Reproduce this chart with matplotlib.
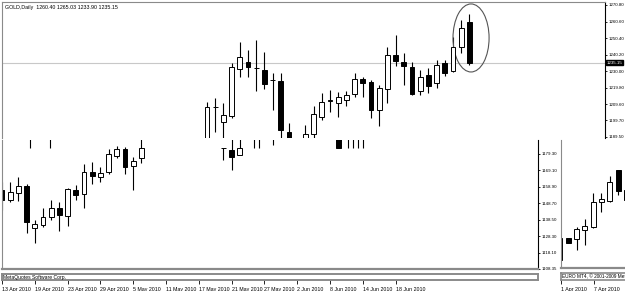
import numpy as np
import matplotlib
matplotlib.use("Agg")
import matplotlib.pyplot as plt
from matplotlib.patches import Ellipse
from matplotlib.transforms import blended_transform_factory

plt.rcParams['font.family'] = ['Liberation Sans', 'DejaVu Sans']

# ---- upper window (GOLD,Daily) ----
up_pos = [25, 26, 27, 28, 29, 30, 31, 32, 33, 34, 35, 37, 38, 39, 40, 41, 42,
          43, 44, 45, 46, 47, 48, 49, 50, 51, 52, 53, 54, 55, 56, 57]
up_open = [1182.0, 1208.0, 1198.74, 1202.44, 1231.38, 1235.69, 1232.0, 1230.77,
           1224.61, 1224.0, 1192.58, 1186.0, 1191.35, 1201.82, 1211.67, 1210.44,
           1212.29, 1216.0, 1225.22, 1223.38, 1206.13, 1219.06, 1240.0, 1235.69,
           1232.61, 1217.83, 1227.69, 1222.76, 1235.08, 1230.15, 1244.93, 1260.40]
up_high = [1211.06, 1213.52, 1210.44, 1235.08, 1248.01, 1243.08, 1249.24, 1241.85,
           1228.92, 1228.92, 1198.12, 1196.9, 1208.59, 1216.6, 1218.45, 1217.22,
           1217.83, 1228.92, 1226.46, 1224.61, 1221.53, 1244.93, 1252.32, 1241.24,
           1235.69, 1230.77, 1232.0, 1236.93, 1236.93, 1251.09, 1261.56, 1265.03]
up_low = [1178.0, 1192.58, 1185.0, 1201.2, 1226.46, 1226.46, 1217.83, 1219.06,
          1206.13, 1187.0, 1185.0, 1182.0, 1187.0, 1199.97, 1205.0, 1201.82,
          1208.59, 1214.14, 1214.14, 1201.2, 1196.28, 1210.44, 1233.23, 1221.53,
          1215.37, 1215.37, 1216.6, 1219.68, 1227.07, 1229.53, 1241.24, 1233.90]
up_close = [1207.98, 1207.9, 1203.05, 1232.61, 1238.77, 1232.61, 1231.9, 1222.14,
            1224.5, 1193.81, 1188.0, 1191.35, 1203.67, 1211.06, 1212.0, 1214.14,
            1215.37, 1225.22, 1222.76, 1206.13, 1219.68, 1240.0, 1236.31, 1233.23,
            1215.98, 1226.46, 1220.91, 1233.85, 1228.92, 1244.93, 1256.63, 1235.15]
up_ticks = [1270.80, 1260.60, 1250.40, 1240.20, 1230.00, 1219.80, 1209.60, 1199.70, 1189.50]
last_price = 1235.15
header = "GOLD,Daily  1260.40 1265.03 1233.90 1235.15"

# ---- lower window (same symbol, older bars + fragments) ----
lo_pos = [0, 1, 2, 3, 4, 5, 6, 7, 8, 9, 10, 11, 12, 13, 14, 15, 16, 17,
          3.41, 5.85, 27, 28, 29, 30.73, 31.34, 33.05, 41, 42.2, 42.8, 43.4, 44.0]
lo_open = [1156.86, 1150.70, 1155.01, 1159.32, 1133.45, 1135.30, 1140.23, 1145.77,
           1140.85, 1156.86, 1154.39, 1167.95, 1164.87, 1167.95, 1177.80, 1182.11,
           1171.64, 1176.57,
           1195, 1195, 1182.73, 1181.49, 1178.41, 1195, 1195, 1195, 1195, 1195, 1195, 1195, 1195]
lo_high = [1161.79, 1161.79, 1164.87, 1160.55, 1138.38, 1145.77, 1150.70, 1149.47,
           1158.09, 1159.94, 1172.87, 1174.10, 1171.03, 1182.11, 1183.96, 1183.34,
           1177.18, 1192.0,
           1196, 1196, 1182.73, 1192.0, 1192.0, 1196, 1196, 1196, 1196, 1196, 1196, 1196, 1196]
lo_low = [1144.54, 1149.47, 1150.08, 1130.38, 1124.22, 1134.07, 1138.38, 1131.61,
          1134.69, 1150.70, 1145.77, 1160.55, 1161.79, 1166.71, 1176.57, 1166.71,
          1156.86, 1173.49,
          1182.73, 1182.73, 1175.34, 1169.18, 1178.41, 1182.73, 1182.73, 1184.57,
          1182.73, 1182.73, 1182.73, 1182.73, 1182.73]
lo_close = [1150.70, 1155.63, 1159.32, 1137.15, 1135.92, 1140.23, 1145.77, 1141.46,
            1157.47, 1153.78, 1167.95, 1165.48, 1167.33, 1179.03, 1182.11, 1171.03,
            1174.72, 1182.73,
            1195, 1195, 1182.6, 1177.18, 1182.73, 1195, 1195, 1195, 1182.73, 1195, 1195, 1195, 1195]
lo_ticks = [1179.30, 1169.10, 1158.90, 1148.70, 1138.50, 1128.30, 1118.10, 1108.35]
lo_date_pos = [0, 4, 8, 12, 16, 20, 24, 28, 32, 36, 40, 44, 48]
lo_dates = ['13 Apr 2010', '19 Apr 2010', '23 Apr 2010', '29 Apr 2010', '5 May 2010',
            '11 May 2010', '17 May 2010', '21 May 2010', '27 May 2010', '2 Jun 2010',
            '8 Jun 2010', '14 Jun 2010', '18 Jun 2010']

# ---- right window (EURO MT4) ----
eu_pos = [0, 1, 2, 3, 4, 5, 6, 7, 8]
eu_open = [1113.75, 1127.29, 1126.68, 1132.22, 1134.07, 1149.47, 1150.08, 1169.18, 1156.86]
eu_high = [1128.52, 1127.29, 1134.07, 1139.00, 1155.01, 1155.01, 1165.48, 1169.18, 1158.09]
eu_low = [1113.13, 1124.22, 1119.91, 1122.98, 1133.45, 1143.31, 1149.47, 1153.78, 1149.47]
eu_close = [1127.29, 1124.22, 1132.84, 1134.69, 1149.47, 1151.31, 1161.79, 1156.24, 1150.70]
eu_date_pos = [0, 4]
eu_dates = ['1 Apr 2010', '7 Apr 2010']

W, H = 625, 291
fig = plt.figure(figsize=(W / 100, H / 100), dpi=100)
GRAY = '#8a8a8a'
FS = 3.2


def px_axes(x0, y0, x1, y1):
    return fig.add_axes([x0 / W, 1 - y1 / H, (x1 - x0) / W, (y1 - y0) / H])


def price_at(y):
    # screen row -> price, shared by all three windows
    return 1270.8 - (y - 5) / 1.6236


def candles(ax, pos, o, h, l, c, width=0.6):
    pos, o, h, l, c = map(np.asarray, (pos, o, h, l, c))
    ax.vlines(pos, l, h, color='black', lw=0.8, zorder=1)
    up = c >= o
    ax.bar(pos, np.maximum(np.abs(c - o), 0.05), bottom=np.minimum(o, c), width=width,
           color=np.where(up, 'white', 'black'), edgecolor='black', lw=0.7, zorder=2)


def style(ax, ticks):
    ax.set_facecolor('white')
    ax.yaxis.tick_right()
    ax.set_yticks(ticks)
    ax.set_yticklabels([f'{t:.2f}' for t in ticks])
    ax.tick_params(axis='y', length=1.5, width=0.6, pad=0.8, labelsize=FS)
    ax.set_xticks([])
    for s in ax.spines.values():
        s.set_color(GRAY)
        s.set_linewidth(0.8)
    ax.spines['right'].set_color('black')


# upper window
ax_up = px_axes(2, 2, 605, 138)
candles(ax_up, up_pos, up_open, up_high, up_low, up_close)
ax_up.set_xlim(0, (605 - 2) / 8.2)
ax_up.set_ylim(price_at(138), price_at(2))
style(ax_up, up_ticks)
ax_up.spines['bottom'].set_visible(False)
ax_up.axhline(last_price, color='#c8c8c8', lw=0.8, zorder=0)
tr = blended_transform_factory(ax_up.transAxes, ax_up.transData)
ax_up.text(1.003, last_price, f'{last_price:.2f}', transform=tr, fontsize=FS,
           color='white', va='center', ha='left',
           bbox=dict(boxstyle='square,pad=0.1', fc='black', ec='black'))
ax_up.add_patch(Ellipse((57.2, 1250.5), 4.4, 41.9, fill=False, ec='#555555', lw=0.8))
ax_up.text(0.005, 0.975, header, transform=ax_up.transAxes, fontsize=3.8,
           va='top', ha='left')

# lower window
ax_lo = px_axes(2, 140, 538, 269)
candles(ax_lo, lo_pos, lo_open, lo_high, lo_low, lo_close)
ax_lo.set_xlim(0, (538 - 2) / 8.2)
ax_lo.set_ylim(price_at(269), price_at(140))
style(ax_lo, lo_ticks)
ax_lo.spines['top'].set_visible(False)
ax_lo.spines['bottom'].set_linewidth(1.6)

ax_lo2 = px_axes(2, 274, 538, 280)
ax_lo2.set_xlim(0, (538 - 2) / 8.2)
ax_lo2.set_yticks([])
ax_lo2.set_xticks(lo_date_pos)
ax_lo2.set_xticklabels(lo_dates)
ax_lo2.tick_params(axis='x', length=3, width=0.6, pad=2, labelsize=3.8)
for lbl in ax_lo2.get_xticklabels():
    lbl.set_ha('left')
for s in ax_lo2.spines.values():
    s.set_color(GRAY)
    s.set_linewidth(1.4)
ax_lo2.text(0.001, 0.5, 'MetaQuotes Software Corp.', transform=ax_lo2.transAxes,
            fontsize=3.6, va='center', ha='left')

# EURO window
ax_eu = px_axes(561, 140, 627, 268)
candles(ax_eu, eu_pos, eu_open, eu_high, eu_low, eu_close)
ax_eu.set_xlim((561 - 560) / 8.3, (627 - 560) / 8.3)
ax_eu.set_ylim(price_at(268), price_at(140))
ax_eu.set_xticks([])
ax_eu.set_yticks([])
for s in ax_eu.spines.values():
    s.set_color(GRAY)
ax_eu.spines['top'].set_visible(False)
ax_eu.spines['bottom'].set_linewidth(1.6)

ax_eu2 = px_axes(561, 273, 627, 280)
ax_eu2.set_xlim((561 - 560) / 8.3, (627 - 560) / 8.3)
ax_eu2.set_yticks([])
ax_eu2.set_xticks(eu_date_pos)
ax_eu2.set_xticklabels(eu_dates)
ax_eu2.tick_params(axis='x', length=3, width=0.6, pad=2, labelsize=3.8)
for lbl in ax_eu2.get_xticklabels():
    lbl.set_ha('left')
for s in ax_eu2.spines.values():
    s.set_color(GRAY)
    s.set_linewidth(1.2)
ax_eu2.text(0.02, 0.5, 'EURO MT4, \u00a9 2001-2009 MetaQuotes Software Corp.',
            transform=ax_eu2.transAxes, fontsize=3.4, va='center', ha='left',
            clip_on=True)

fig.savefig('out.png', dpi=100, facecolor='white')
